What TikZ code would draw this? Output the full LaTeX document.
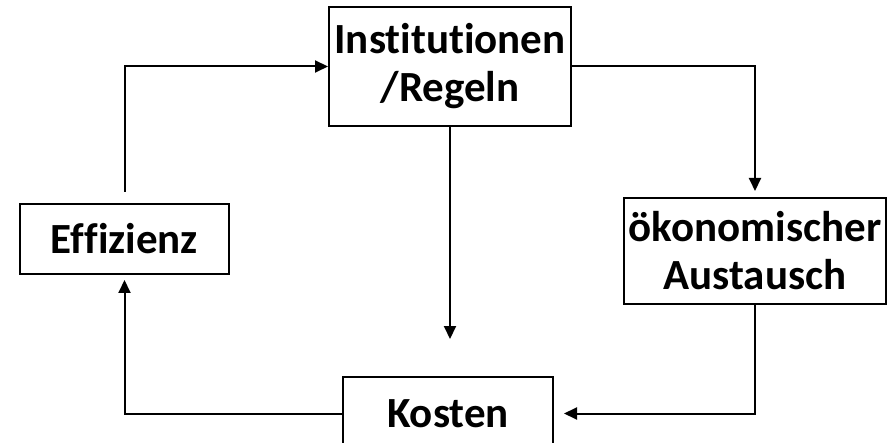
\documentclass[tikz,border=0pt]{standalone}
\usepackage{fontspec}
\setmainfont{Carlito}[Ligatures=NoCommon]
\usetikzlibrary{arrows.meta}

\begin{document}
\begin{tikzpicture}[x=1pt, y=-1pt,
    box/.style={draw, line width=2pt, inner sep=0pt, align=center,
        font=\fontsize{43}{48}\selectfont\bfseries},
    arr/.style={line width=2pt, -{Triangle[length=13pt,width=12pt]}}]
    \clip (0,0) rectangle (888,443);
    % boxes
    \node[box, minimum width=242pt, minimum height=119pt] (inst) at (450,66.5) {Institutionen\\/Regeln};
    \node[box, minimum width=209pt, minimum height=70pt] (eff) at (124.5,239) {Effizienz};
    \node[box, minimum width=262pt, minimum height=106pt] (oek) at (755,251) {ökonomischer\\ Austausch};
    \node[box, minimum width=210pt, minimum height=73pt] (kost) at (448,413.5) {Kosten};
    % arrows
    \draw[arr, shorten <=11pt] (eff.north) |- (inst.west);
    \draw[arr, shorten >=6pt] (inst.east) -| (oek.north);
    \draw[arr, shorten >=37pt] (inst.south) -- (inst.south |- kost.north);
    \draw[arr, shorten >=10pt] (oek.south) |- (kost.east);
    \draw[arr, shorten >=5pt] (kost.west) -| (eff.south);
\end{tikzpicture}
\end{document}
